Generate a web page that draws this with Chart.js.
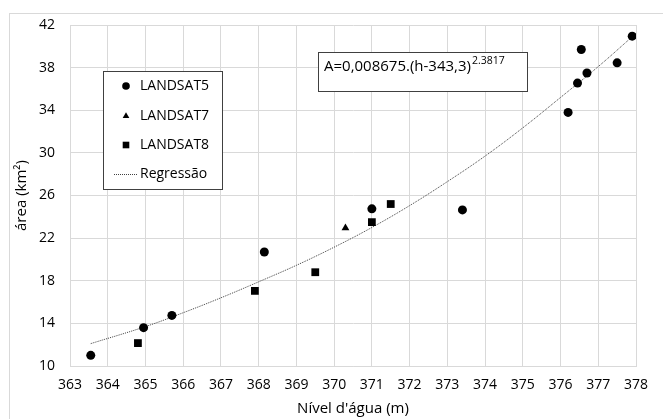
<!DOCTYPE html>
<html>
<head>
<meta charset="utf-8">
<script src="https://cdn.jsdelivr.net/npm/chart.js@4.4.1/dist/chart.umd.min.js"></script>
<style>
  html, body { margin: 0; padding: 0; background: #fff; overflow: hidden; }
  #wrap { position: relative; width: 663px; height: 419px; }
  #frame { position: absolute; left: 9px; top: 13px; width: 700px; height: 450px; border: 1px solid #d9d9d9; }
  #chartBox { position: absolute; left: 0; top: 0; width: 663px; height: 419px; }
</style>
</head>
<body>
<div id="wrap">
  <div id="frame"></div>
  <div id="chartBox"><canvas id="chart"></canvas></div>
</div>
<script>
/*==== data ====*/
const l5_x = [363.55, 364.95, 365.7, 368.15, 371.0, 373.4, 376.2, 376.45, 376.55, 376.7, 377.5, 377.9];
const l5_y = [11.0, 13.6, 14.75, 20.7, 24.75, 24.65, 33.8, 36.55, 39.7, 37.5, 38.45, 40.95];

const l7_x = [370.3];
const l7_y = [22.95];

const l8_x = [364.8, 367.9, 369.5, 371.0, 371.5];
const l8_y = [12.15, 17.05, 18.8, 23.5, 25.2];

// dotted trend line
const reg_x = [363.55, 365, 366, 367, 368, 369, 370, 371, 372, 373, 374, 375, 376, 377, 377.9];
const reg_y = [12.1, 13.7, 15.0, 16.4, 17.9, 19.45, 21.15, 23.0, 25.05, 27.3, 29.7, 32.35, 35.2, 38.1, 40.9];

const seriesNames = ['LANDSAT5', 'LANDSAT7', 'LANDSAT8', 'Regressão'];
const formulaText = 'A=0,008675.(h-343,3)';
const formulaExp = '2.3817';

function toPoints(xs, ys) {
    return xs.map((x, i) => ({x: x, y: ys[i]}));
}

const FONT = "'Open Sans', Lato, sans-serif";

/*==== legend + formula box drawn inside plot ====*/
const boxesPlugin = {
    id: 'boxes',
    afterDraw(chart) {
        const ctx = chart.ctx;
        ctx.save();
        // legend box
        ctx.fillStyle = '#fff';
        ctx.fillRect(103.5, 71.5, 119, 118);
        ctx.strokeStyle = '#404040';
        ctx.lineWidth = 1;
        ctx.strokeRect(103.5, 71.5, 119, 118);
        const rows = [86, 116, 145, 174];
        ctx.font = '14px ' + FONT;
        ctx.textBaseline = 'middle';
        ctx.textAlign = 'left';
        chart.data.datasets.forEach((ds, i) => {
            const y = rows[i];
            if (ds.showLine) {
                ctx.strokeStyle = '#404040';
                ctx.setLineDash([1, 1]);
                ctx.beginPath();
                ctx.moveTo(114, y + 0.5);
                ctx.lineTo(137, y + 0.5);
                ctx.stroke();
                ctx.setLineDash([]);
            } else {
                ctx.fillStyle = '#000';
                ctx.strokeStyle = '#000';
                Chart.helpers.drawPoint(ctx, {
                    pointStyle: ds.pointStyle, radius: ds.pointRadius * 0.85,
                    rotation: 0, borderWidth: 0
                }, 126, y);
            }
            ctx.fillStyle = '#000';
            ctx.fillText(ds.label, 140, y);
        });

        // formula box
        ctx.fillStyle = '#fff';
        ctx.fillRect(318.5, 52.5, 209, 39);
        ctx.strokeStyle = '#404040';
        ctx.strokeRect(318.5, 52.5, 209, 39);
        ctx.fillStyle = '#000';
        ctx.font = '15px ' + FONT;
        ctx.textBaseline = 'alphabetic';
        ctx.fillText(formulaText, 324, 71);
        const w = ctx.measureText(formulaText).width;
        ctx.font = '10.5px ' + FONT;
        ctx.fillText(formulaExp, 324 + w + 1, 64);
        ctx.restore();
    }
};

const config = {
    type: 'scatter',
    data: {
        datasets: [
            {label: seriesNames[0], data: toPoints(l5_x, l5_y), pointStyle: 'circle', pointRadius: 4.5,
             backgroundColor: '#000', borderColor: '#000', borderWidth: 0},
            {label: seriesNames[1], data: toPoints(l7_x, l7_y), pointStyle: 'triangle', pointRadius: 4.5,
             backgroundColor: '#000', borderColor: '#000', borderWidth: 0},
            {label: seriesNames[2], data: toPoints(l8_x, l8_y), pointStyle: 'rect', pointRadius: 5.5,
             backgroundColor: '#000', borderColor: '#000', borderWidth: 0},
            {label: seriesNames[3], data: toPoints(reg_x, reg_y), showLine: true, pointRadius: 0,
             borderColor: '#404040', borderWidth: 1, borderDash: [1, 1], tension: 0.4}
        ]
    },
    options: {
        responsive: true,
        maintainAspectRatio: false,
        animation: false,
        layout: {padding: {top: 25, right: 27, left: 0, bottom: 0}},
        plugins: {legend: {display: false}, tooltip: {enabled: false}},
        scales: {
            x: {
                type: 'linear', min: 363, max: 378,
                ticks: {stepSize: 1, color: '#000', font: {family: FONT, size: 14}, padding: 11, maxRotation: 0},
                grid: {color: '#d9d9d9', drawTicks: false},
                border: {color: '#d9d9d9'},
                title: {display: true, text: "Nível d'água (m)", color: '#000',
                        font: {family: FONT, size: 15}, padding: {top: 0, bottom: 1}},
                afterFit(scale) { scale.height = 53; }
            },
            y: {
                min: 10, max: 42,
                ticks: {stepSize: 4, color: '#000', font: {family: FONT, size: 14}, padding: 15},
                grid: {color: '#d9d9d9', drawTicks: false},
                border: {color: '#d9d9d9'},
                title: {display: true, text: 'área (km²)', color: '#000',
                        font: {family: FONT, size: 15}, padding: {top: 13, bottom: 0}},
                afterFit(scale) { scale.width = 70; }
            }
        }
    },
    plugins: [boxesPlugin]
};

const chart = new Chart(document.querySelector('#chart'), config);
</script>
</body>
</html>
